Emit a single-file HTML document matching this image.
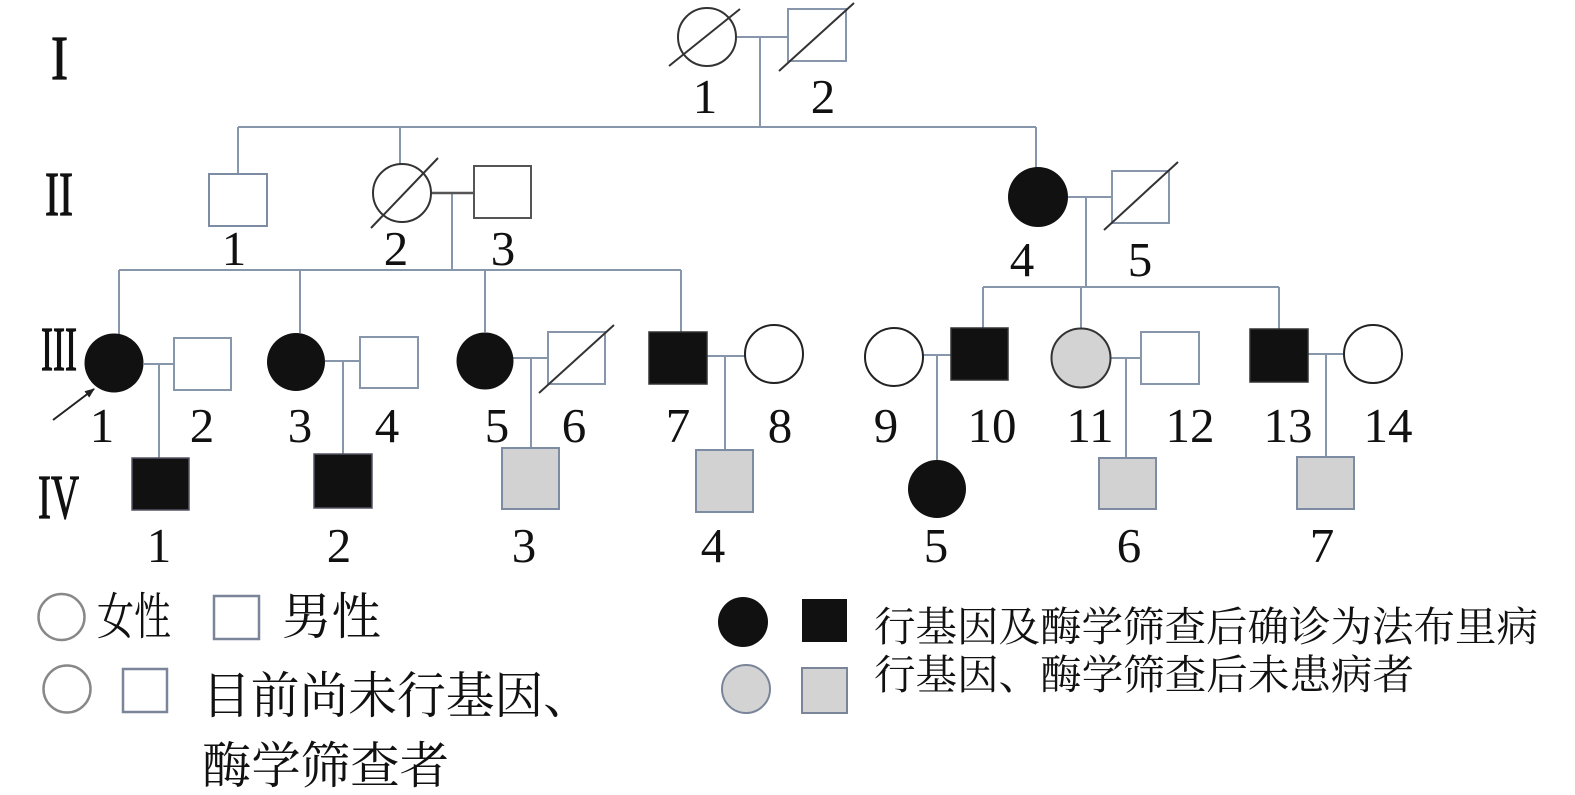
<!DOCTYPE html>
<html>
<head>
<meta charset="utf-8">
<style>
html,body{margin:0;padding:0;background:#fff;}
svg{display:block;}
.num{font-family:"Liberation Serif",serif;font-size:49px;fill:#111;text-anchor:middle;}
.rom{font-family:"Liberation Serif",serif;font-size:62px;fill:#111;stroke:#111;stroke-width:1.2;}
.cjk{font-family:"Liberation Serif","Noto Serif CJK SC","Noto Sans CJK SC",serif;fill:#111;}
</style>
</head>
<body>
<svg width="1575" height="795" viewBox="0 0 1575 795" xmlns="http://www.w3.org/2000/svg">
<defs>
<marker id="ah" markerWidth="10" markerHeight="10" refX="9" refY="5" orient="auto" markerUnits="userSpaceOnUse">
<path d="M0,1 L10,5 L0,9 Z" fill="#222"/>
</marker>
</defs>
<rect width="1575" height="795" fill="#fff"/>

<!-- Roman numerals -->
<text class="rom" x="51" y="79" textLength="17" lengthAdjust="spacingAndGlyphs">I</text>
<text class="rom" x="45" y="215" textLength="28" lengthAdjust="spacingAndGlyphs">II</text>
<text class="rom" x="41" y="370" textLength="36" lengthAdjust="spacingAndGlyphs">III</text>
<text class="rom" x="38" y="518" textLength="41" lengthAdjust="spacingAndGlyphs">IV</text>

<!-- connectors -->
<g stroke="#8796ab" stroke-width="2" fill="none">
  <line x1="737" y1="37" x2="788" y2="37"/>
  <line x1="760" y1="37" x2="760" y2="127"/>
  <line x1="238" y1="127" x2="1036" y2="127"/>
  <line x1="238" y1="127" x2="238" y2="174"/>
  <line x1="400" y1="127" x2="400" y2="164"/>
  <line x1="1036" y1="127" x2="1036" y2="168"/>
  <line x1="452" y1="193" x2="452" y2="270"/>
  <line x1="119" y1="270" x2="681" y2="270"/>
  <line x1="119" y1="270" x2="119" y2="334"/>
  <line x1="300" y1="270" x2="300" y2="333"/>
  <line x1="485" y1="270" x2="485" y2="332"/>
  <line x1="681" y1="270" x2="681" y2="332"/>
  <line x1="1068" y1="197" x2="1112" y2="197"/>
  <line x1="1086" y1="197" x2="1086" y2="287"/>
  <line x1="983" y1="287" x2="1279" y2="287"/>
  <line x1="983" y1="287" x2="983" y2="328"/>
  <line x1="1081" y1="287" x2="1081" y2="329"/>
  <line x1="1279" y1="287" x2="1279" y2="329"/>
  <line x1="144" y1="364" x2="174" y2="364"/>
  <line x1="159" y1="364" x2="159" y2="458"/>
  <line x1="325" y1="361" x2="360" y2="361"/>
  <line x1="343" y1="361" x2="343" y2="454"/>
  <line x1="513" y1="358" x2="548" y2="358"/>
  <line x1="531" y1="358" x2="531" y2="448"/>
  <line x1="707" y1="356" x2="745" y2="356"/>
  <line x1="725" y1="356" x2="725" y2="450"/>
  <line x1="923" y1="355" x2="951" y2="355"/>
  <line x1="937" y1="355" x2="937" y2="460"/>
  <line x1="1110" y1="358" x2="1141" y2="358"/>
  <line x1="1126" y1="358" x2="1126" y2="458"/>
  <line x1="1308" y1="354" x2="1344" y2="354"/>
  <line x1="1326" y1="354" x2="1326" y2="457"/>
</g>
<line x1="431" y1="193" x2="474" y2="193" stroke="#555" stroke-width="2.5"/>

<!-- Gen I -->
<circle cx="707" cy="37" r="29" fill="#fff" stroke="#333" stroke-width="2"/>
<line x1="669" y1="66" x2="740" y2="9" stroke="#333" stroke-width="2"/>
<rect x="788" y="9" width="58" height="52" fill="#fff" stroke="#8796ab" stroke-width="2"/>
<line x1="779" y1="71" x2="854" y2="3" stroke="#333" stroke-width="2"/>

<!-- Gen II -->
<rect x="209" y="174" width="58" height="52" fill="#fff" stroke="#7d8ca3" stroke-width="2"/>
<circle cx="402" cy="193" r="29" fill="#fff" stroke="#333" stroke-width="2"/>
<line x1="371" y1="228" x2="438" y2="158" stroke="#333" stroke-width="2"/>
<rect x="474" y="166" width="57" height="52" fill="#fff" stroke="#555" stroke-width="2"/>
<circle cx="1038" cy="197" r="30" fill="#111"/>
<rect x="1112" y="171" width="57" height="52" fill="#fff" stroke="#8796ab" stroke-width="2"/>
<line x1="1104" y1="230" x2="1178" y2="162" stroke="#333" stroke-width="2"/>

<!-- Gen III -->
<circle cx="114" cy="363" r="29.5" fill="#111"/>
<rect x="174" y="338" width="57" height="52" fill="#fff" stroke="#8796ab" stroke-width="2"/>
<circle cx="296" cy="362" r="29" fill="#111"/>
<rect x="360" y="337" width="58" height="51" fill="#fff" stroke="#8796ab" stroke-width="2"/>
<circle cx="485" cy="361" r="28.5" fill="#111"/>
<rect x="548" y="332" width="57" height="52" fill="#fff" stroke="#8796ab" stroke-width="2"/>
<line x1="539" y1="393" x2="614" y2="325" stroke="#333" stroke-width="2"/>
<rect x="649" y="332" width="58" height="52" fill="#111" stroke="#333" stroke-width="1.5"/>
<circle cx="774" cy="354" r="29" fill="#fff" stroke="#222" stroke-width="2"/>
<circle cx="894" cy="357" r="29" fill="#fff" stroke="#222" stroke-width="2"/>
<rect x="951" y="328" width="57" height="52" fill="#111" stroke="#333" stroke-width="1.5"/>
<circle cx="1081" cy="358" r="29.5" fill="#d3d3d3" stroke="#333" stroke-width="2"/>
<rect x="1141" y="332" width="58" height="52" fill="#fff" stroke="#8796ab" stroke-width="2"/>
<rect x="1250" y="329" width="58" height="53" fill="#111" stroke="#333" stroke-width="1.5"/>
<circle cx="1373" cy="354" r="29" fill="#fff" stroke="#222" stroke-width="2"/>

<!-- arrow -->
<line x1="53" y1="420" x2="94" y2="389" stroke="#222" stroke-width="2" marker-end="url(#ah)"/>

<!-- Gen IV -->
<rect x="132" y="458" width="57" height="52" fill="#111" stroke="#556" stroke-width="1.5"/>
<rect x="314" y="454" width="58" height="54" fill="#111" stroke="#556" stroke-width="1.5"/>
<rect x="502" y="448" width="57" height="61" fill="#d2d2d2" stroke="#7d8ca3" stroke-width="2"/>
<rect x="696" y="450" width="57" height="62" fill="#d2d2d2" stroke="#7d8ca3" stroke-width="2"/>
<circle cx="937" cy="489" r="29" fill="#111"/>
<rect x="1099" y="458" width="57" height="51" fill="#d2d2d2" stroke="#7d8ca3" stroke-width="2"/>
<rect x="1297" y="457" width="57" height="52" fill="#d2d2d2" stroke="#7d8ca3" stroke-width="2"/>

<!-- labels -->
<text class="num" x="705" y="113">1</text>
<text class="num" x="823" y="113">2</text>

<text class="num" x="234" y="265">1</text>
<text class="num" x="396" y="265">2</text>
<text class="num" x="503" y="265">3</text>
<text class="num" x="1022" y="276">4</text>
<text class="num" x="1140" y="276">5</text>

<text class="num" x="102" y="442">1</text>
<text class="num" x="202" y="442">2</text>
<text class="num" x="300" y="442">3</text>
<text class="num" x="387" y="442">4</text>
<text class="num" x="497" y="442">5</text>
<text class="num" x="574" y="442">6</text>
<text class="num" x="678" y="442">7</text>
<text class="num" x="780" y="442">8</text>
<text class="num" x="886" y="442">9</text>
<text class="num" x="992" y="442">10</text>
<text class="num" x="1090" y="442">11</text>
<text class="num" x="1190" y="442">12</text>
<text class="num" x="1288" y="442">13</text>
<text class="num" x="1388" y="442">14</text>

<text class="num" x="159" y="562">1</text>
<text class="num" x="339" y="562">2</text>
<text class="num" x="524" y="562">3</text>
<text class="num" x="713" y="562">4</text>
<text class="num" x="936" y="562">5</text>
<text class="num" x="1129" y="562">6</text>
<text class="num" x="1322" y="562">7</text>

<!-- Legend left -->
<circle cx="61.5" cy="617" r="23" fill="#fff" stroke="#888" stroke-width="2.5"/>
<text class="cjk" x="97" y="634" font-size="50" textLength="74" lengthAdjust="spacingAndGlyphs">女性</text>
<rect x="214" y="596" width="45" height="43" fill="#fff" stroke="#7a8599" stroke-width="2.5"/>
<text class="cjk" x="282" y="634" font-size="50" textLength="99" lengthAdjust="spacingAndGlyphs">男性</text>

<circle cx="67" cy="689" r="23.5" fill="#fff" stroke="#888" stroke-width="2.5"/>
<rect x="123" y="669" width="44" height="43" fill="#fff" stroke="#7a8599" stroke-width="2.5"/>
<text class="cjk" x="202" y="713" font-size="50" textLength="390" lengthAdjust="spacingAndGlyphs">目前尚未行基因、</text>
<text class="cjk" x="202" y="783" font-size="50" textLength="247" lengthAdjust="spacingAndGlyphs">酶学筛查者</text>

<!-- Legend right -->
<circle cx="743" cy="622" r="25" fill="#111"/>
<rect x="802" y="599" width="45" height="43" fill="#111"/>
<circle cx="746" cy="689" r="24" fill="#d3d3d3" stroke="#7a8599" stroke-width="2"/>
<rect x="802" y="668" width="45" height="45" fill="#d3d3d3" stroke="#7a8599" stroke-width="2"/>
<text class="cjk" x="874" y="641" font-size="41" textLength="664" lengthAdjust="spacingAndGlyphs">行基因及酶学筛查后确诊为法布里病</text>
<text class="cjk" x="874" y="689" font-size="41" textLength="540" lengthAdjust="spacingAndGlyphs">行基因、酶学筛查后未患病者</text>
</svg>
</body>
</html>
